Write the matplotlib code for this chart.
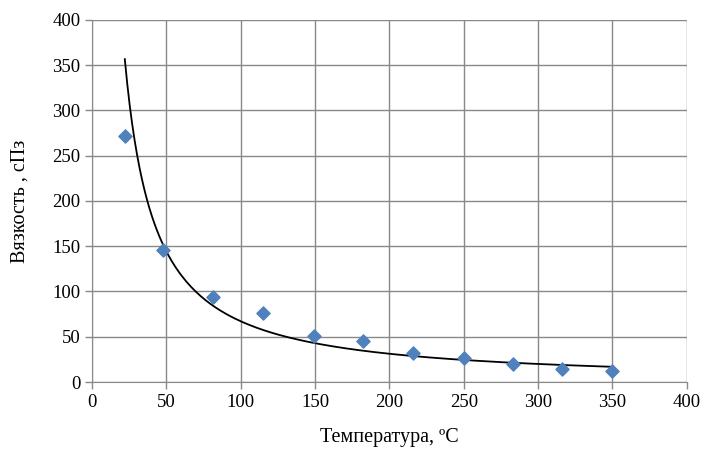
import numpy as np
import matplotlib
matplotlib.use("Agg")
from matplotlib import pyplot as plt

# measured points
temperature = [22, 48, 81, 115, 149, 182, 216, 250, 283, 316, 350]
viscosity = [272, 146, 94, 76, 51, 45, 32, 26.5, 20, 14, 12]

x_ticks = [0, 50, 100, 150, 200, 250, 300, 350, 400]
y_ticks = [0, 50, 100, 150, 200, 250, 300, 350, 400]

plt.rcParams['font.family'] = ['Liberation Serif', 'DejaVu Serif']

# power trendline, fitted in log-log space like Excel does
b, ln_a = np.polyfit(np.log(temperature), np.log(viscosity), 1)
xt = np.linspace(temperature[0], temperature[-1], 200)
yt = np.exp(ln_a) * xt ** b

fig = plt.figure(figsize=(7.03, 4.5), dpi=100)
ax = fig.add_axes([0.131, 0.151, 0.846, 0.805])

ax.plot(xt, yt, color='black', lw=1.3, zorder=3)
ax.scatter(temperature, viscosity, marker='D', s=45, color='#4F81BD', zorder=4)

ax.set_xlim(0, 400)
ax.set_ylim(0, 400)
ax.set_xticks(x_ticks)
ax.set_yticks(y_ticks)
ax.grid(True, color='#898989', lw=1)
ax.set_axisbelow(True)
for s in ['top', 'right']:
    ax.spines[s].set_visible(False)
for s in ['left', 'bottom']:
    ax.spines[s].set_color('#898989')
ax.tick_params(colors='#898989', labelcolor='black', labelsize=13.5, length=5, width=1)

ax.set_xlabel('Температура, ºС', fontsize=14.5, labelpad=12)
ax.set_ylabel('Вязкость , сПз', fontsize=14.5, labelpad=16)

plt.savefig('out.png')
